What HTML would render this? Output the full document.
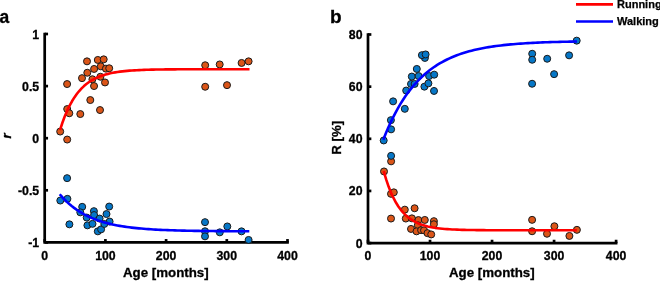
<!DOCTYPE html><html><head><meta charset="utf-8"><style>html,body{margin:0;padding:0;background:#fff;overflow:hidden}svg{display:block;will-change:transform}</style></head><body><svg width="660" height="281" viewBox="0 0 660 281"><style>.tk{font-family:"Liberation Sans",sans-serif;font-weight:bold;font-size:12.3px;fill:#000;stroke:#000;stroke-width:0.3px}.lb{font-family:"Liberation Sans",sans-serif;font-weight:bold;font-size:13.3px;fill:#000;stroke:#000;stroke-width:0.3px}.pl{font-family:"Liberation Sans",sans-serif;font-weight:bold;font-size:19px;fill:#000;stroke:#000;stroke-width:0.3px}.lg{font-family:"Liberation Sans",sans-serif;font-weight:bold;font-size:11px;fill:#000;stroke:#000;stroke-width:0.25px}</style><rect width="660" height="281" fill="#fff"/><path d="M44.7,34.0 L44.7,242.4 L287.5,242.4" fill="none" stroke="#000" stroke-width="2.7" stroke-linecap="square"/><line x1="44.7" y1="242.4" x2="44.7" y2="239.05" stroke="#000" stroke-width="2.7"/><text x="44.7" y="260" text-anchor="middle" class="tk">0</text><line x1="105.4" y1="242.4" x2="105.4" y2="239.05" stroke="#000" stroke-width="2.7"/><text x="105.4" y="260" text-anchor="middle" class="tk">100</text><line x1="166.10000000000002" y1="242.4" x2="166.10000000000002" y2="239.05" stroke="#000" stroke-width="2.7"/><text x="166.10000000000002" y="260" text-anchor="middle" class="tk">200</text><line x1="226.8" y1="242.4" x2="226.8" y2="239.05" stroke="#000" stroke-width="2.7"/><text x="226.8" y="260" text-anchor="middle" class="tk">300</text><line x1="287.5" y1="242.4" x2="287.5" y2="239.05" stroke="#000" stroke-width="2.7"/><text x="287.5" y="260" text-anchor="middle" class="tk">400</text><line x1="44.7" y1="34.0" x2="48.050000000000004" y2="34.0" stroke="#000" stroke-width="2.7"/><text x="39.2" y="38.5" text-anchor="end" class="tk">1</text><line x1="44.7" y1="86.1" x2="48.050000000000004" y2="86.1" stroke="#000" stroke-width="2.7"/><text x="39.2" y="90.6" text-anchor="end" class="tk">0.5</text><line x1="44.7" y1="138.2" x2="48.050000000000004" y2="138.2" stroke="#000" stroke-width="2.7"/><text x="39.2" y="142.7" text-anchor="end" class="tk">0</text><line x1="44.7" y1="190.3" x2="48.050000000000004" y2="190.3" stroke="#000" stroke-width="2.7"/><text x="39.2" y="194.8" text-anchor="end" class="tk">-0.5</text><line x1="44.7" y1="242.4" x2="48.050000000000004" y2="242.4" stroke="#000" stroke-width="2.7"/><text x="39.2" y="246.9" text-anchor="end" class="tk">-1</text><circle cx="60.20" cy="131.55" r="3.5" fill="#DB5518" stroke="#1a1a1a" stroke-width="1.0"/><circle cx="67.20" cy="139.55" r="3.5" fill="#DB5518" stroke="#1a1a1a" stroke-width="1.0"/><circle cx="67.10" cy="84.05" r="3.5" fill="#DB5518" stroke="#1a1a1a" stroke-width="1.0"/><circle cx="67.20" cy="109.05" r="3.5" fill="#DB5518" stroke="#1a1a1a" stroke-width="1.0"/><circle cx="69.30" cy="113.25" r="3.5" fill="#DB5518" stroke="#1a1a1a" stroke-width="1.0"/><circle cx="80.30" cy="114.05" r="3.5" fill="#DB5518" stroke="#1a1a1a" stroke-width="1.0"/><circle cx="82.00" cy="78.15" r="3.5" fill="#DB5518" stroke="#1a1a1a" stroke-width="1.0"/><circle cx="87.00" cy="61.35" r="3.5" fill="#DB5518" stroke="#1a1a1a" stroke-width="1.0"/><circle cx="87.30" cy="72.75" r="3.5" fill="#DB5518" stroke="#1a1a1a" stroke-width="1.0"/><circle cx="94.10" cy="68.95" r="3.5" fill="#DB5518" stroke="#1a1a1a" stroke-width="1.0"/><circle cx="97.80" cy="59.95" r="3.5" fill="#DB5518" stroke="#1a1a1a" stroke-width="1.0"/><circle cx="103.70" cy="59.35" r="3.5" fill="#DB5518" stroke="#1a1a1a" stroke-width="1.0"/><circle cx="100.80" cy="66.35" r="3.5" fill="#DB5518" stroke="#1a1a1a" stroke-width="1.0"/><circle cx="105.90" cy="68.65" r="3.5" fill="#DB5518" stroke="#1a1a1a" stroke-width="1.0"/><circle cx="109.20" cy="68.25" r="3.5" fill="#DB5518" stroke="#1a1a1a" stroke-width="1.0"/><circle cx="92.40" cy="79.25" r="3.5" fill="#DB5518" stroke="#1a1a1a" stroke-width="1.0"/><circle cx="100.40" cy="76.75" r="3.5" fill="#DB5518" stroke="#1a1a1a" stroke-width="1.0"/><circle cx="105.00" cy="82.45" r="3.5" fill="#DB5518" stroke="#1a1a1a" stroke-width="1.0"/><circle cx="94.05" cy="86.05" r="3.5" fill="#DB5518" stroke="#1a1a1a" stroke-width="1.0"/><circle cx="90.30" cy="100.05" r="3.5" fill="#DB5518" stroke="#1a1a1a" stroke-width="1.0"/><circle cx="100.00" cy="110.05" r="3.5" fill="#DB5518" stroke="#1a1a1a" stroke-width="1.0"/><circle cx="205.20" cy="65.25" r="3.5" fill="#DB5518" stroke="#1a1a1a" stroke-width="1.0"/><circle cx="219.70" cy="64.45" r="3.5" fill="#DB5518" stroke="#1a1a1a" stroke-width="1.0"/><circle cx="241.60" cy="62.95" r="3.5" fill="#DB5518" stroke="#1a1a1a" stroke-width="1.0"/><circle cx="248.60" cy="61.35" r="3.5" fill="#DB5518" stroke="#1a1a1a" stroke-width="1.0"/><circle cx="205.20" cy="86.75" r="3.5" fill="#DB5518" stroke="#1a1a1a" stroke-width="1.0"/><circle cx="227.00" cy="85.15" r="3.5" fill="#DB5518" stroke="#1a1a1a" stroke-width="1.0"/><circle cx="67.10" cy="178.15" r="3.5" fill="#0677C7" stroke="#1a1a1a" stroke-width="1.0"/><circle cx="60.30" cy="200.55" r="3.5" fill="#0677C7" stroke="#1a1a1a" stroke-width="1.0"/><circle cx="67.40" cy="198.85" r="3.5" fill="#0677C7" stroke="#1a1a1a" stroke-width="1.0"/><circle cx="69.40" cy="224.35" r="3.5" fill="#0677C7" stroke="#1a1a1a" stroke-width="1.0"/><circle cx="82.20" cy="206.85" r="3.5" fill="#0677C7" stroke="#1a1a1a" stroke-width="1.0"/><circle cx="80.30" cy="212.35" r="3.5" fill="#0677C7" stroke="#1a1a1a" stroke-width="1.0"/><circle cx="109.20" cy="206.55" r="3.5" fill="#0677C7" stroke="#1a1a1a" stroke-width="1.0"/><circle cx="93.90" cy="211.15" r="3.5" fill="#0677C7" stroke="#1a1a1a" stroke-width="1.0"/><circle cx="106.50" cy="214.05" r="3.5" fill="#0677C7" stroke="#1a1a1a" stroke-width="1.0"/><circle cx="94.10" cy="215.05" r="3.5" fill="#0677C7" stroke="#1a1a1a" stroke-width="1.0"/><circle cx="86.70" cy="217.55" r="3.5" fill="#0677C7" stroke="#1a1a1a" stroke-width="1.0"/><circle cx="99.60" cy="218.55" r="3.5" fill="#0677C7" stroke="#1a1a1a" stroke-width="1.0"/><circle cx="109.60" cy="221.55" r="3.5" fill="#0677C7" stroke="#1a1a1a" stroke-width="1.0"/><circle cx="87.40" cy="225.35" r="3.5" fill="#0677C7" stroke="#1a1a1a" stroke-width="1.0"/><circle cx="92.50" cy="223.85" r="3.5" fill="#0677C7" stroke="#1a1a1a" stroke-width="1.0"/><circle cx="97.80" cy="231.35" r="3.5" fill="#0677C7" stroke="#1a1a1a" stroke-width="1.0"/><circle cx="101.10" cy="229.35" r="3.5" fill="#0677C7" stroke="#1a1a1a" stroke-width="1.0"/><circle cx="104.30" cy="223.95" r="3.5" fill="#0677C7" stroke="#1a1a1a" stroke-width="1.0"/><circle cx="205.00" cy="222.15" r="3.5" fill="#0677C7" stroke="#1a1a1a" stroke-width="1.0"/><circle cx="205.00" cy="231.25" r="3.5" fill="#0677C7" stroke="#1a1a1a" stroke-width="1.0"/><circle cx="205.00" cy="236.35" r="3.5" fill="#0677C7" stroke="#1a1a1a" stroke-width="1.0"/><circle cx="219.80" cy="232.35" r="3.5" fill="#0677C7" stroke="#1a1a1a" stroke-width="1.0"/><circle cx="227.30" cy="226.45" r="3.5" fill="#0677C7" stroke="#1a1a1a" stroke-width="1.0"/><circle cx="241.50" cy="231.35" r="3.5" fill="#0677C7" stroke="#1a1a1a" stroke-width="1.0"/><circle cx="248.60" cy="239.95" r="3.5" fill="#0677C7" stroke="#1a1a1a" stroke-width="1.0"/><path d="M60.00,130.10 L62.40,122.77 L64.80,116.31 L67.20,110.64 L69.59,105.65 L71.99,101.26 L74.39,97.40 L76.79,94.00 L79.19,91.01 L81.59,88.39 L83.99,86.08 L86.39,84.04 L88.78,82.26 L91.18,80.68 L93.58,79.30 L95.98,78.08 L98.38,77.01 L100.78,76.07 L103.18,75.25 L105.58,74.52 L107.97,73.88 L110.37,73.31 L112.77,72.82 L115.17,72.38 L117.57,72.00 L119.97,71.66 L122.37,71.37 L124.77,71.10 L127.16,70.88 L129.56,70.67 L131.96,70.50 L134.36,70.34 L136.76,70.20 L139.16,70.08 L141.56,69.98 L143.96,69.88 L146.35,69.80 L148.75,69.73 L151.15,69.66 L153.55,69.61 L155.95,69.56 L158.35,69.52 L160.75,69.48 L163.15,69.44 L165.54,69.41 L167.94,69.39 L170.34,69.37 L172.74,69.35 L175.14,69.33 L177.54,69.31 L179.94,69.30 L182.34,69.29 L184.73,69.28 L187.13,69.27 L189.53,69.26 L191.93,69.25 L194.33,69.25 L196.73,69.24 L199.13,69.24 L201.53,69.23 L203.92,69.23 L206.32,69.22 L208.72,69.22 L211.12,69.22 L213.52,69.22 L215.92,69.21 L218.32,69.21 L220.72,69.21 L223.11,69.21 L225.51,69.21 L227.91,69.21 L230.31,69.21 L232.71,69.21 L235.11,69.21 L237.51,69.20 L239.91,69.20 L242.30,69.20 L244.70,69.20 L247.10,69.20 L249.50,69.20" fill="none" stroke="#FF0000" stroke-width="2.6" stroke-linejoin="round"/><path d="M59.70,194.25 L62.10,196.98 L64.50,199.50 L66.90,201.84 L69.30,204.01 L71.70,206.02 L74.10,207.88 L76.50,209.61 L78.90,211.20 L81.30,212.68 L83.70,214.06 L86.10,215.33 L88.50,216.50 L90.90,217.59 L93.30,218.61 L95.70,219.54 L98.10,220.41 L100.50,221.21 L102.90,221.96 L105.30,222.65 L107.70,223.29 L110.10,223.88 L112.50,224.43 L114.90,224.94 L117.30,225.41 L119.70,225.85 L122.10,226.25 L124.50,226.62 L126.90,226.97 L129.30,227.29 L131.70,227.59 L134.10,227.87 L136.50,228.12 L138.90,228.36 L141.30,228.58 L143.70,228.78 L146.10,228.97 L148.50,229.15 L150.90,229.31 L153.30,229.46 L155.70,229.60 L158.10,229.73 L160.50,229.85 L162.90,229.96 L165.30,230.06 L167.70,230.15 L170.10,230.24 L172.50,230.32 L174.90,230.40 L177.30,230.47 L179.70,230.53 L182.10,230.59 L184.50,230.65 L186.90,230.70 L189.30,230.75 L191.70,230.79 L194.10,230.83 L196.50,230.87 L198.90,230.91 L201.30,230.94 L203.70,230.97 L206.10,231.00 L208.50,231.02 L210.90,231.05 L213.30,231.07 L215.70,231.09 L218.10,231.11 L220.50,231.13 L222.90,231.14 L225.30,231.16 L227.70,231.17 L230.10,231.19 L232.50,231.20 L234.90,231.21 L237.30,231.22 L239.70,231.23 L242.10,231.24 L244.50,231.25 L246.90,231.25 L249.30,231.26" fill="none" stroke="#0000FF" stroke-width="2.6" stroke-linejoin="round"/><text x="123" y="277" class="lb">Age [months]</text><text transform="translate(-0.6,22.7) scale(0.92,1)" class="pl">a</text><text transform="translate(11,138.5) rotate(-90)" class="lb" style="font-style:italic">r</text><path d="M368.0,34.5 L368.0,243.1 L616.1,243.1" fill="none" stroke="#000" stroke-width="2.7" stroke-linecap="square"/><line x1="368.0" y1="243.1" x2="368.0" y2="239.75" stroke="#000" stroke-width="2.7"/><text x="368.0" y="260" text-anchor="middle" class="tk">0</text><line x1="430.025" y1="243.1" x2="430.025" y2="239.75" stroke="#000" stroke-width="2.7"/><text x="430.025" y="260" text-anchor="middle" class="tk">100</text><line x1="492.05" y1="243.1" x2="492.05" y2="239.75" stroke="#000" stroke-width="2.7"/><text x="492.05" y="260" text-anchor="middle" class="tk">200</text><line x1="554.075" y1="243.1" x2="554.075" y2="239.75" stroke="#000" stroke-width="2.7"/><text x="554.075" y="260" text-anchor="middle" class="tk">300</text><line x1="616.1" y1="243.1" x2="616.1" y2="239.75" stroke="#000" stroke-width="2.7"/><text x="616.1" y="260" text-anchor="middle" class="tk">400</text><line x1="368.0" y1="34.5" x2="371.35" y2="34.5" stroke="#000" stroke-width="2.7"/><text x="362.5" y="39.0" text-anchor="end" class="tk">80</text><line x1="368.0" y1="86.65" x2="371.35" y2="86.65" stroke="#000" stroke-width="2.7"/><text x="362.5" y="91.15" text-anchor="end" class="tk">60</text><line x1="368.0" y1="138.8" x2="371.35" y2="138.8" stroke="#000" stroke-width="2.7"/><text x="362.5" y="143.3" text-anchor="end" class="tk">40</text><line x1="368.0" y1="190.95" x2="371.35" y2="190.95" stroke="#000" stroke-width="2.7"/><text x="362.5" y="195.45" text-anchor="end" class="tk">20</text><line x1="368.0" y1="243.1" x2="371.35" y2="243.1" stroke="#000" stroke-width="2.7"/><text x="362.5" y="247.6" text-anchor="end" class="tk">0</text><circle cx="384.00" cy="171.45" r="3.5" fill="#DB5518" stroke="#1a1a1a" stroke-width="1.0"/><circle cx="391.00" cy="193.85" r="3.5" fill="#DB5518" stroke="#1a1a1a" stroke-width="1.0"/><circle cx="393.80" cy="192.35" r="3.5" fill="#DB5518" stroke="#1a1a1a" stroke-width="1.0"/><circle cx="391.10" cy="161.35" r="3.5" fill="#DB5518" stroke="#1a1a1a" stroke-width="1.0"/><circle cx="391.00" cy="218.55" r="3.5" fill="#DB5518" stroke="#1a1a1a" stroke-width="1.0"/><circle cx="404.80" cy="209.65" r="3.5" fill="#DB5518" stroke="#1a1a1a" stroke-width="1.0"/><circle cx="414.60" cy="208.25" r="3.5" fill="#DB5518" stroke="#1a1a1a" stroke-width="1.0"/><circle cx="405.80" cy="218.55" r="3.5" fill="#DB5518" stroke="#1a1a1a" stroke-width="1.0"/><circle cx="411.90" cy="218.35" r="3.5" fill="#DB5518" stroke="#1a1a1a" stroke-width="1.0"/><circle cx="418.40" cy="220.05" r="3.5" fill="#DB5518" stroke="#1a1a1a" stroke-width="1.0"/><circle cx="424.80" cy="219.95" r="3.5" fill="#DB5518" stroke="#1a1a1a" stroke-width="1.0"/><circle cx="433.90" cy="221.15" r="3.5" fill="#DB5518" stroke="#1a1a1a" stroke-width="1.0"/><circle cx="433.90" cy="224.25" r="3.5" fill="#DB5518" stroke="#1a1a1a" stroke-width="1.0"/><circle cx="417.80" cy="225.25" r="3.5" fill="#DB5518" stroke="#1a1a1a" stroke-width="1.0"/><circle cx="411.00" cy="228.95" r="3.5" fill="#DB5518" stroke="#1a1a1a" stroke-width="1.0"/><circle cx="416.50" cy="231.35" r="3.5" fill="#DB5518" stroke="#1a1a1a" stroke-width="1.0"/><circle cx="421.10" cy="230.15" r="3.5" fill="#DB5518" stroke="#1a1a1a" stroke-width="1.0"/><circle cx="424.00" cy="230.35" r="3.5" fill="#DB5518" stroke="#1a1a1a" stroke-width="1.0"/><circle cx="427.50" cy="233.15" r="3.5" fill="#DB5518" stroke="#1a1a1a" stroke-width="1.0"/><circle cx="431.20" cy="234.45" r="3.5" fill="#DB5518" stroke="#1a1a1a" stroke-width="1.0"/><circle cx="532.10" cy="219.85" r="3.5" fill="#DB5518" stroke="#1a1a1a" stroke-width="1.0"/><circle cx="532.10" cy="231.25" r="3.5" fill="#DB5518" stroke="#1a1a1a" stroke-width="1.0"/><circle cx="547.00" cy="233.75" r="3.5" fill="#DB5518" stroke="#1a1a1a" stroke-width="1.0"/><circle cx="554.40" cy="226.25" r="3.5" fill="#DB5518" stroke="#1a1a1a" stroke-width="1.0"/><circle cx="569.40" cy="235.95" r="3.5" fill="#DB5518" stroke="#1a1a1a" stroke-width="1.0"/><circle cx="576.90" cy="229.85" r="3.5" fill="#DB5518" stroke="#1a1a1a" stroke-width="1.0"/><circle cx="424.90" cy="57.95" r="3.5" fill="#0677C7" stroke="#1a1a1a" stroke-width="1.0"/><circle cx="421.90" cy="55.15" r="3.5" fill="#0677C7" stroke="#1a1a1a" stroke-width="1.0"/><circle cx="425.60" cy="54.45" r="3.5" fill="#0677C7" stroke="#1a1a1a" stroke-width="1.0"/><circle cx="416.80" cy="68.95" r="3.5" fill="#0677C7" stroke="#1a1a1a" stroke-width="1.0"/><circle cx="411.80" cy="76.55" r="3.5" fill="#0677C7" stroke="#1a1a1a" stroke-width="1.0"/><circle cx="418.60" cy="76.05" r="3.5" fill="#0677C7" stroke="#1a1a1a" stroke-width="1.0"/><circle cx="429.10" cy="76.05" r="3.5" fill="#0677C7" stroke="#1a1a1a" stroke-width="1.0"/><circle cx="434.20" cy="74.65" r="3.5" fill="#0677C7" stroke="#1a1a1a" stroke-width="1.0"/><circle cx="411.00" cy="83.95" r="3.5" fill="#0677C7" stroke="#1a1a1a" stroke-width="1.0"/><circle cx="414.60" cy="83.95" r="3.5" fill="#0677C7" stroke="#1a1a1a" stroke-width="1.0"/><circle cx="424.40" cy="86.65" r="3.5" fill="#0677C7" stroke="#1a1a1a" stroke-width="1.0"/><circle cx="428.40" cy="83.35" r="3.5" fill="#0677C7" stroke="#1a1a1a" stroke-width="1.0"/><circle cx="406.20" cy="90.55" r="3.5" fill="#0677C7" stroke="#1a1a1a" stroke-width="1.0"/><circle cx="434.00" cy="90.95" r="3.5" fill="#0677C7" stroke="#1a1a1a" stroke-width="1.0"/><circle cx="393.10" cy="101.35" r="3.5" fill="#0677C7" stroke="#1a1a1a" stroke-width="1.0"/><circle cx="404.80" cy="108.85" r="3.5" fill="#0677C7" stroke="#1a1a1a" stroke-width="1.0"/><circle cx="390.90" cy="120.15" r="3.5" fill="#0677C7" stroke="#1a1a1a" stroke-width="1.0"/><circle cx="391.10" cy="129.35" r="3.5" fill="#0677C7" stroke="#1a1a1a" stroke-width="1.0"/><circle cx="383.70" cy="140.45" r="3.5" fill="#0677C7" stroke="#1a1a1a" stroke-width="1.0"/><circle cx="391.10" cy="155.85" r="3.5" fill="#0677C7" stroke="#1a1a1a" stroke-width="1.0"/><circle cx="576.70" cy="40.65" r="3.5" fill="#0677C7" stroke="#1a1a1a" stroke-width="1.0"/><circle cx="532.20" cy="53.75" r="3.5" fill="#0677C7" stroke="#1a1a1a" stroke-width="1.0"/><circle cx="532.20" cy="59.75" r="3.5" fill="#0677C7" stroke="#1a1a1a" stroke-width="1.0"/><circle cx="547.20" cy="58.75" r="3.5" fill="#0677C7" stroke="#1a1a1a" stroke-width="1.0"/><circle cx="569.10" cy="55.35" r="3.5" fill="#0677C7" stroke="#1a1a1a" stroke-width="1.0"/><circle cx="554.10" cy="74.15" r="3.5" fill="#0677C7" stroke="#1a1a1a" stroke-width="1.0"/><circle cx="532.10" cy="83.75" r="3.5" fill="#0677C7" stroke="#1a1a1a" stroke-width="1.0"/><path d="M383.70,171.05 L386.15,179.38 L388.59,186.55 L391.04,192.70 L393.48,197.99 L395.93,202.53 L398.37,206.44 L400.82,209.79 L403.26,212.68 L405.71,215.16 L408.16,217.28 L410.60,219.11 L413.05,220.69 L415.49,222.04 L417.94,223.20 L420.38,224.20 L422.83,225.05 L425.27,225.79 L427.72,226.42 L430.17,226.97 L432.61,227.43 L435.06,227.84 L437.50,228.18 L439.95,228.48 L442.39,228.73 L444.84,228.95 L447.28,229.14 L449.73,229.30 L452.18,229.44 L454.62,229.56 L457.07,229.66 L459.51,229.75 L461.96,229.83 L464.40,229.89 L466.85,229.95 L469.29,230.00 L471.74,230.04 L474.19,230.07 L476.63,230.10 L479.08,230.13 L481.52,230.15 L483.97,230.17 L486.41,230.19 L488.86,230.20 L491.31,230.21 L493.75,230.23 L496.20,230.23 L498.64,230.24 L501.09,230.25 L503.53,230.25 L505.98,230.26 L508.42,230.26 L510.87,230.27 L513.32,230.27 L515.76,230.27 L518.21,230.28 L520.65,230.28 L523.10,230.28 L525.54,230.28 L527.99,230.28 L530.43,230.28 L532.88,230.28 L535.33,230.29 L537.77,230.29 L540.22,230.29 L542.66,230.29 L545.11,230.29 L547.55,230.29 L550.00,230.29 L552.44,230.29 L554.89,230.29 L557.34,230.29 L559.78,230.29 L562.23,230.29 L564.67,230.29 L567.12,230.29 L569.56,230.29 L572.01,230.29 L574.45,230.29 L576.90,230.29" fill="none" stroke="#FF0000" stroke-width="2.6" stroke-linejoin="round"/><path d="M383.30,139.70 L385.75,133.55 L388.20,127.79 L390.66,122.38 L393.11,117.31 L395.56,112.56 L398.01,108.10 L400.46,103.92 L402.92,100.00 L405.37,96.32 L407.82,92.87 L410.27,89.64 L412.72,86.61 L415.17,83.76 L417.63,81.09 L420.08,78.59 L422.53,76.25 L424.98,74.05 L427.43,71.99 L429.89,70.05 L432.34,68.24 L434.79,66.54 L437.24,64.94 L439.69,63.45 L442.15,62.04 L444.60,60.73 L447.05,59.49 L449.50,58.34 L451.95,57.25 L454.41,56.24 L456.86,55.28 L459.31,54.39 L461.76,53.55 L464.21,52.76 L466.66,52.02 L469.12,51.33 L471.57,50.68 L474.02,50.07 L476.47,49.50 L478.92,48.97 L481.38,48.46 L483.83,47.99 L486.28,47.55 L488.73,47.14 L491.18,46.75 L493.64,46.39 L496.09,46.05 L498.54,45.73 L500.99,45.42 L503.44,45.14 L505.89,44.88 L508.35,44.63 L510.80,44.40 L513.25,44.18 L515.70,43.98 L518.15,43.79 L520.61,43.61 L523.06,43.44 L525.51,43.28 L527.96,43.13 L530.41,42.99 L532.87,42.86 L535.32,42.74 L537.77,42.63 L540.22,42.52 L542.67,42.42 L545.13,42.32 L547.58,42.24 L550.03,42.15 L552.48,42.07 L554.93,42.00 L557.38,41.93 L559.84,41.87 L562.29,41.81 L564.74,41.75 L567.19,41.70 L569.64,41.65 L572.10,41.60 L574.55,41.56 L577.00,41.52" fill="none" stroke="#0000FF" stroke-width="2.6" stroke-linejoin="round"/><text x="449" y="277.2" class="lb">Age [months]</text><text x="330" y="22.6" class="pl">b</text><text transform="translate(340.5,154.7) rotate(-90)" class="lb">R [%]</text><line x1="576" y1="4.4" x2="613" y2="4.4" stroke="#FF0000" stroke-width="2.6"/><line x1="576" y1="21.5" x2="613" y2="21.5" stroke="#0000FF" stroke-width="2.6"/><text x="617" y="7.5" class="lg">Running</text><text x="617" y="24.9" class="lg">Walking</text></svg></body></html>
